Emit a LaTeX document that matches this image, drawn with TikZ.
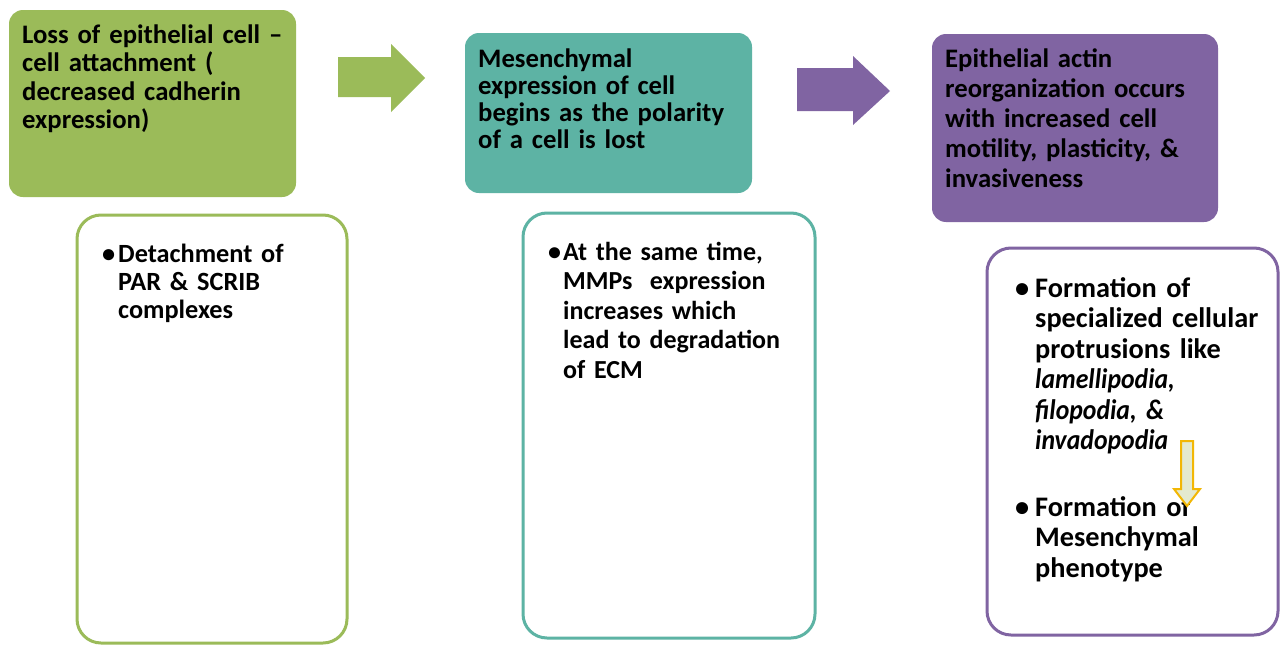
\documentclass[tikz,border=0pt]{standalone}
\usepackage{fontspec}
\setmainfont{Carlito}
\definecolor{egreen}{HTML}{9BBB59}
\definecolor{eteal}{HTML}{5DB3A4}
\definecolor{epurple}{HTML}{8064A2}
\definecolor{egold}{HTML}{F2B705}
\definecolor{epale}{HTML}{E4EACF}
\newcommand{\bulitem}[2]{\makebox[#1][l]{\textbullet}\begin{tabular}[t]{@{}l@{}}#2\end{tabular}}
\newcommand{\narit}[1]{{\itshape\addfontfeature{FakeStretch=0.91}#1}}
\newcommand{\tightsp}{\spaceskip=0.19em plus 0.05em\relax}
\begin{document}
\begin{tikzpicture}[x=1pt,y=-1pt,
  topbox/.style={rectangle, rounded corners=14pt, draw=none, inner sep=0pt},
  botbox/.style={rectangle, rounded corners=24pt, line width=3pt, fill=white, inner sep=0pt},
  txt/.style={anchor=base west, inner sep=0pt, text width=#1, align=left},
  toptext/.style={txt=280pt, font=\fontsize{26.7}{28.5}\selectfont\bfseries\tightsp},
]
\useasboundingbox (0,0) rectangle (1284,645);
\fill[white] (0,0) rectangle (1284,645);

% top boxes
\node[topbox, fill=egreen, minimum width=287pt, minimum height=187pt] (b1) at (152.5,103.5) {};
\node[topbox, fill=eteal, minimum width=287pt, minimum height=160pt] (b2) at (608.5,113) {};
\node[topbox, fill=epurple, minimum width=286pt, minimum height=188pt] (b3) at (1075,128) {};

% bottom boxes
\node[botbox, draw=egreen, minimum width=270pt, minimum height=428pt] (c1) at (212,429) {};
\node[botbox, draw=eteal, minimum width=292pt, minimum height=425pt] (c2) at (669,425.5) {};
\node[botbox, draw=epurple, minimum width=291pt, minimum height=387pt] (c3) at (1132.5,441.5) {};

% top texts
\node[toptext] (t1) at (22,43) {Loss of epithelial cell --\\cell attachment (\\decreased cadherin\\expression)};
\node[toptext, font=\fontsize{26.7}{27}\selectfont\bfseries\tightsp] (t2) at (478,67) {Mesenchymal\\expression of cell\\begins as the polarity\\of a cell is lost};
\node[toptext, font=\fontsize{26.7}{30}\selectfont\bfseries\tightsp] (t3) at (945,67) {Epithelial actin\\reorganization occurs\\with increased cell\\motility, plasticity, \&\\invasiveness};

% bottom texts
\node[txt=240pt, font=\fontsize{26.3}{28}\selectfont\bfseries\tightsp] (u1) at (102,262)
  {\bulitem{16pt}{Detachment of\\PAR \& SCRIB\\complexes}};
\node[txt=260pt, font=\fontsize{26}{29.5}\selectfont\bfseries\tightsp] (u2) at (548,260)
  {\bulitem{15pt}{At the same time,\\MMPs\ \ expression\\increases which\\lead to degradation\\of ECM}};
\node[txt=262pt, font=\fontsize{28.3}{30.5}\selectfont\bfseries\tightsp] (u3) at (1015,297)
  {\bulitem{20pt}{Formation of\\specialized cellular\\protrusions like\\\narit{lamellipodia,}\\\narit{filopodia, \&}\\\narit{invadopodia}}};
\node[txt=262pt, font=\fontsize{28.3}{30.5}\selectfont\bfseries\tightsp] (u4) at (1015,516)
  {\bulitem{20pt}{Formation of\\Mesenchymal\\phenotype}};

% block arrows between top boxes
\fill[egreen] (338,57) -- (391,57) -- (391,44) -- (425,78) -- (391,112) -- (391,97) -- (338,97) -- cycle;
\fill[epurple] (797,68) -- (853,68) -- (853,56) -- (890,91) -- (853,125) -- (853,111) -- (797,111) -- cycle;

% small down arrow between the two points of the third bottom box
\draw[egold, line width=2pt, fill=epale, line join=miter]
  (1181,441) -- (1193,441) -- (1193,489) -- (1200,489) -- (1187,506) -- (1174,489) -- (1181,489) -- cycle;
\end{tikzpicture}
\end{document}
